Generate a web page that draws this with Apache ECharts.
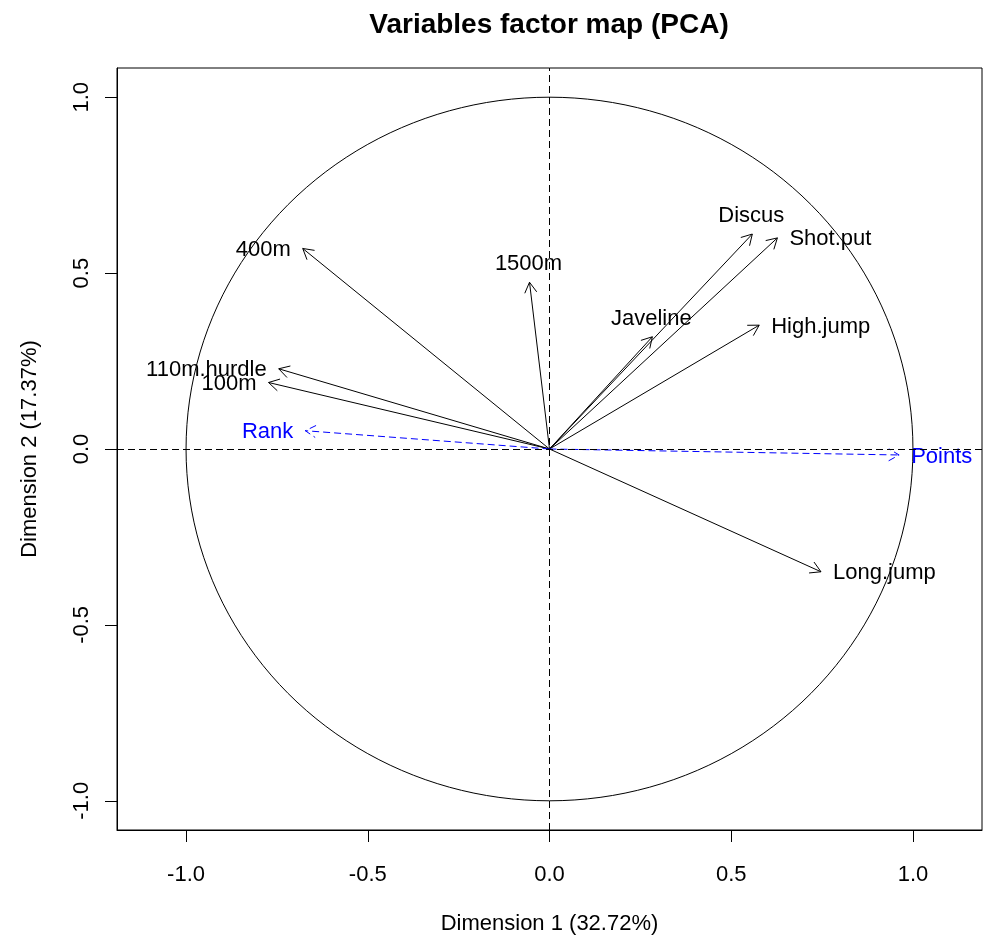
<!DOCTYPE html>
<html>
<head>
<meta charset="utf-8">
<script src="https://cdn.jsdelivr.net/npm/echarts@6/dist/echarts.min.js"></script>
<style>
  html, body { margin: 0; padding: 0; background: #fff; }
  #chart { width: 984px; height: 936px; }
</style>
</head>
<body>
<div id="chart"></div>
<script>
// Active variables (coordinates on Dim 1 / Dim 2)
const activeNames = ['100m', 'Long.jump', 'Shot.put', 'High.jump', '400m', '110m.hurdle', 'Discus', 'Javeline', '1500m'];
const activeDim1  = [-0.773, 0.747, 0.627, 0.577, -0.679, -0.745, 0.558, 0.283, -0.055];
const activeDim2  = [ 0.189, -0.349, 0.600, 0.352, 0.570, 0.228, 0.611, 0.319, 0.474];

// Supplementary quantitative variables
const suppNames = ['Rank', 'Points'];
const suppDim1  = [-0.672, 0.962];
const suppDim2  = [ 0.052, -0.017];

// Axis ticks
const tickValues = [-1.0, -0.5, 0.0, 0.5, 1.0];
const titleText = 'Variables factor map (PCA)';
const xTitle = 'Dimension 1 (32.72%)';
const yTitle = 'Dimension 2 (17.37%)';

// label placement (style)
const labelSide = {
  '100m': 'left', '110m.hurdle': 'left', '400m': 'left', 'Rank': 'left',
  '1500m': 'top', 'Discus': 'top', 'Javeline': 'top',
  'Shot.put': 'right', 'High.jump': 'right', 'Long.jump': 'right', 'Points': 'right'
};

const FONT = '"Liberation Sans", Arial, Helvetica, sans-serif';

const activeData = activeNames.map((n, i) => [activeDim1[i], activeDim2[i], n]);
const suppData = suppNames.map((n, i) => [suppDim1[i], suppDim2[i], n]);

function activeOrSupp(si) { return si === 1 ? activeData : suppData; }

function arrowRenderer(color, dashed) {
  return function (params, api) {
    const x = api.value(0), y = api.value(1);
    const name = activeOrSupp(params.seriesIndex)[params.dataIndex][2];
    const tip = api.coord([x, y]);
    const o = api.coord([0, 0]);
    const ang = Math.atan2(tip[1] - o[1], tip[0] - o[0]);
    const L = 12, A = Math.PI / 6;
    const p1 = [tip[0] - L * Math.cos(ang - A), tip[1] - L * Math.sin(ang - A)];
    const p2 = [tip[0] - L * Math.cos(ang + A), tip[1] - L * Math.sin(ang + A)];
    const ls = { stroke: color, lineWidth: 1, fill: null };
    if (dashed) ls.lineDash = [7, 4];
    const side = labelSide[name];
    let tx, ty, align;
    if (side === 'left') { tx = tip[0] - 12; ty = tip[1] + 1.5; align = 'right'; }
    else if (side === 'right') { tx = tip[0] + 12; ty = tip[1] + 1.5; align = 'left'; }
    else { tx = tip[0] - 1; ty = tip[1] - 18; align = 'center'; }
    return {
      type: 'group',
      children: [
        { type: 'line', shape: { x1: o[0], y1: o[1], x2: tip[0], y2: tip[1] }, style: ls },
        { type: 'polyline', shape: { points: [p1, tip, p2] }, style: Object.assign({}, ls) },
        { type: 'text', style: { text: name, x: tx, y: ty, align: align, verticalAlign: 'middle',
            fill: color, font: '22px ' + FONT } }
      ]
    };
  };
}

const chart = echarts.init(document.getElementById('chart'), null, { renderer: 'canvas' });
chart.setOption({
  animation: false,
  backgroundColor: '#fff',
  title: {
    text: titleText, left: 549, top: 11, textAlign: 'center', padding: 0,
    textStyle: { fontFamily: FONT, fontSize: 28, fontWeight: 'bold', color: '#000' }
  },
  grid: { left: 117, right: 2, top: 68, bottom: 106, show: true, borderColor: '#000', borderWidth: 1,
          containLabel: false, outerBoundsMode: 'none' },
  xAxis: {
    type: 'value', min: -1.19, max: 1.19,
    axisLine: { show: true, onZero: false, lineStyle: { color: '#000', width: 1 } },
    axisTick: { show: true, customValues: tickValues, length: 12, lineStyle: { color: '#000' } },
    axisLabel: { customValues: tickValues, formatter: v => v.toFixed(1), fontSize: 22, fontFamily: FONT, color: '#000', margin: 34 },
    splitLine: { show: false },
    name: xTitle, nameLocation: 'middle', nameGap: 83,
    nameTextStyle: { fontSize: 22, fontFamily: FONT, color: '#000' }
  },
  yAxis: {
    type: 'value', min: -1.083, max: 1.083,
    axisLine: { show: true, onZero: false, lineStyle: { color: '#000', width: 1 } },
    axisTick: { show: true, customValues: tickValues, length: 12, lineStyle: { color: '#000' } },
    axisLabel: { customValues: tickValues, formatter: v => v.toFixed(1), fontSize: 22, fontFamily: FONT, color: '#000', rotate: 90, margin: 24 },
    splitLine: { show: false },
    name: yTitle, nameLocation: 'middle', nameGap: 76, nameRotate: 90,
    nameTextStyle: { fontSize: 22, fontFamily: FONT, color: '#000' }
  },
  series: [
    {
      type: 'custom', name: 'circle', silent: true, data: [[0, 0]],
      renderItem: function (params, api) {
        const pts = [];
        for (let d = 0; d <= 360; d += 2) {
          const t = d * Math.PI / 180;
          pts.push(api.coord([Math.cos(t), Math.sin(t)]));
        }
        return { type: 'polyline', shape: { points: pts }, style: { stroke: '#000', lineWidth: 1, fill: null } };
      },
      markLine: {
        silent: true, symbol: ['none', 'none'], label: { show: false },
        lineStyle: { color: '#000', width: 1, type: [7, 4] },
        data: [{ xAxis: 0 }, { yAxis: 0 }]
      }
    },
    {
      type: 'custom', name: 'active', silent: true, data: activeData,
      renderItem: arrowRenderer('#000000', false)
    },
    {
      type: 'custom', name: 'supplementary', silent: true, data: suppData,
      renderItem: arrowRenderer('#0000FF', true)
    }
  ]
});
</script>
</body>
</html>
